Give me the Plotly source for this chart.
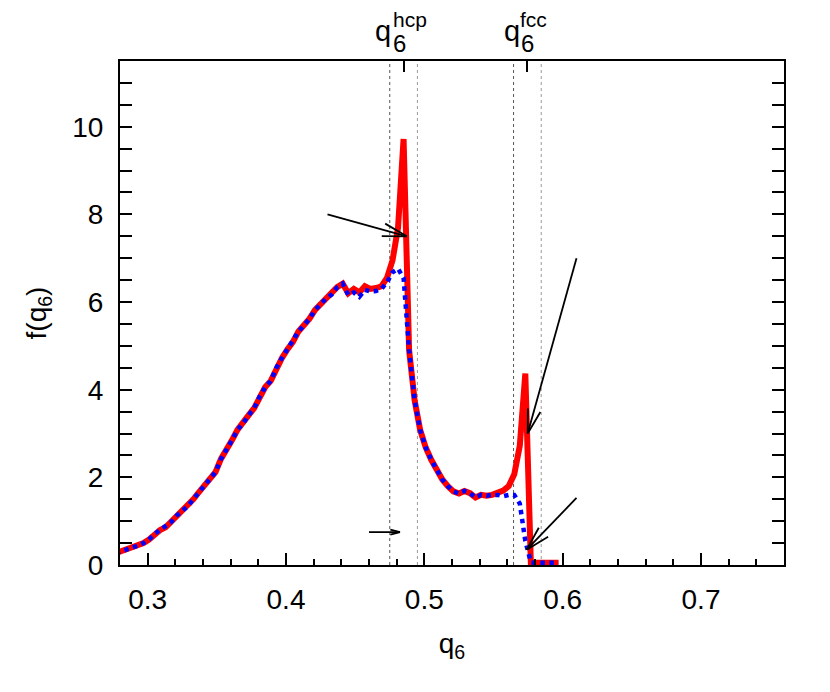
import math

import plotly.graph_objects as go

# q6 bin centres (0.004 wide) and the two distributions
q6 = [round(0.277 + 0.004 * k, 3) for k in range(81)]

f_red = [
    0.27, 0.31, 0.35, 0.39, 0.44, 0.50, 0.58, 0.71, 0.80, 0.86,
    0.98, 1.13, 1.24, 1.34, 1.50, 1.66, 1.80, 1.97, 2.12, 2.42,
    2.62, 2.85, 3.09, 3.23, 3.42, 3.58, 3.85, 4.06, 4.20, 4.50,
    4.72, 4.92, 5.09, 5.33, 5.47, 5.62, 5.82, 5.95, 6.08, 6.17,
    6.34, 6.42, 6.20, 6.30, 6.22, 6.36, 6.30, 6.32, 6.36, 6.55,
    6.95, 7.70, 9.72, 4.90, 3.75, 3.08, 2.68, 2.40, 2.15, 1.95,
    1.80, 1.68, 1.63, 1.69, 1.64, 1.54, 1.60, 1.58, 1.60, 1.64,
    1.70, 1.80, 2.07, 2.72, 4.37, 0.05, 0.05, 0.05, 0.05, 0.05,
    0.05,
]

f_blue = [
    0.27, 0.31, 0.35, 0.39, 0.44, 0.50, 0.58, 0.71, 0.80, 0.86,
    0.98, 1.13, 1.24, 1.34, 1.50, 1.66, 1.80, 1.97, 2.12, 2.42,
    2.62, 2.85, 3.09, 3.23, 3.42, 3.58, 3.85, 4.06, 4.20, 4.50,
    4.72, 4.92, 5.09, 5.33, 5.47, 5.62, 5.82, 5.95, 6.08, 6.17,
    6.34, 6.42, 6.16, 6.22, 6.12, 6.28, 6.24, 6.25, 6.30, 6.45,
    6.68, 6.76, 6.55, 4.90, 3.75, 3.08, 2.68, 2.40, 2.15, 1.95,
    1.80, 1.68, 1.63, 1.69, 1.64, 1.54, 1.60, 1.58, 1.60, 1.60,
    1.57, 1.60, 1.60, 1.40, 0.55, 0.06, 0.05, 0.05, 0.05, 0.05,
    0.05,
]

# reference values and the +-0.01 windows around them
q6_ref = [0.485, 0.5745]
ref_labels = ["hcp", "fcc"]
windows = [0.475, 0.495, 0.5645, 0.5845]

# arrows: (x_from, y_from, x_to, y_to, head length px)
arrows = [
    (0.430, 8.0, 0.4873, 7.5, 25),
    (0.610, 7.0, 0.5747, 3.0, 25),
    (0.610, 1.53, 0.574, 0.35, 25),
    (0.460, 0.75, 0.4824, 0.75, 10),
]

X_RANGE = [0.28, 0.76]
Y_RANGE = [0, 11.5]
W, H = 830, 692
# the page body adds 8px, so the plot box lands at 120..784 x 61..565
MARGIN = dict(l=112, r=54, t=53, b=135)
FONT = "Liberation Sans, Arial, sans-serif"

fig = go.Figure()

fig.add_trace(go.Scatter(
    x=q6, y=f_red, mode="lines",
    line=dict(color="#ff0000", width=6),
    showlegend=False, hoverinfo="skip",
))
fig.add_trace(go.Scatter(
    x=q6, y=f_blue, mode="lines",
    line=dict(color="#0000ff", width=4.5, dash="dot"),
    showlegend=False, hoverinfo="skip",
))
# dummy trace so that the top axis with the reference ticks is drawn
fig.add_trace(go.Scatter(
    x=q6_ref, y=[None, None], xaxis="x2", mode="markers",
    showlegend=False, hoverinfo="skip",
))

for i, xv in enumerate(windows):
    fig.add_shape(
        type="line", xref="x", yref="paper", x0=xv, x1=xv, y0=0, y1=1,
        line=dict(color="#555555" if i % 2 == 0 else "#999999", width=1, dash="dot"),
        layer="below",
    )

# arrows drawn as shaft + two barbs (gnuplot style open heads)
plot_w = W - MARGIN["l"] - MARGIN["r"]
plot_h = H - MARGIN["t"] - MARGIN["b"]
sx = plot_w / (X_RANGE[1] - X_RANGE[0])
sy = plot_h / (Y_RANGE[1] - Y_RANGE[0])
ang = math.radians(15)
for x0, y0, x1, y1, head in arrows:
    arrow_line = dict(color="black", width=1.8)
    fig.add_shape(type="line", x0=x0, y0=y0, x1=x1, y1=y1, line=arrow_line)
    dx, dy = (x0 - x1) * sx, (y0 - y1) * sy
    n = math.hypot(dx, dy)
    ux, uy = dx / n, dy / n
    for s in (1, -1):
        bx = ux * math.cos(s * ang) - uy * math.sin(s * ang)
        by = ux * math.sin(s * ang) + uy * math.cos(s * ang)
        fig.add_shape(
            type="line", x0=x1, y0=y1,
            x1=x1 + head * bx / sx, y1=y1 + head * by / sy,
            line=arrow_line,
        )

# top labels q6^hcp, q6^fcc (subscript and superscript stacked)
label_offsets = {"hcp": (-29.5, -11.5, -11.5), "fcc": (-24.4, -7.4, -8.4)}
for xv, lab in zip(q6_ref, ref_labels):
    oq, o6, osup = label_offsets[lab]
    for text, size, xs, ys in (("q", 29, oq, 30.5), ("6", 24, o6, 17.5), (lab, 21, osup, 42)):
        fig.add_annotation(
            x=xv, xref="x", y=1, yref="paper", text=text, showarrow=False,
            xanchor="left", yanchor="middle", xshift=xs, yshift=ys, borderpad=0,
            font=dict(family=FONT, size=size, color="black"),
        )

axis_common = dict(
    showline=True, linecolor="black", linewidth=2,
    ticks="inside", ticklen=12, tickwidth=1.5, tickcolor="black",
    showgrid=False, zeroline=False,
    tickfont=dict(family=FONT, size=28, color="black"),
)

fig.update_layout(
    width=W, height=H,
    margin=dict(MARGIN, autoexpand=False),
    plot_bgcolor="white", paper_bgcolor="white",
    font=dict(family=FONT, size=28, color="black"),
    xaxis=dict(
        axis_common, range=X_RANGE, dtick=0.1, tick0=0.3, mirror=True,
        tickformat=".1f", ticklabelstandoff=8,
        minor=dict(dtick=0.02, tick0=0.28, ticks="inside", ticklen=6, tickwidth=1.5, tickcolor="black"),
        title=dict(text="q<sub>6</sub>", font=dict(family=FONT, size=28), standoff=20),
    ),
    xaxis2=dict(
        overlaying="x", side="top", range=X_RANGE, tickmode="array", tickvals=q6_ref,
        ticks="inside", ticklen=11, tickwidth=1.5, tickcolor="black",
        showticklabels=False, showline=False, showgrid=False, zeroline=False,
    ),
    yaxis=dict(
        axis_common, range=Y_RANGE, dtick=2, mirror="allticks", ticklabelstandoff=9,
        minor=dict(dtick=0.5, ticks="inside", ticklen=6, tickwidth=1.5, tickcolor="black"),
        title=dict(text="f(q<sub>6</sub>)", font=dict(family=FONT, size=28), standoff=17),
    ),
)

fig.write_html("out.html")
